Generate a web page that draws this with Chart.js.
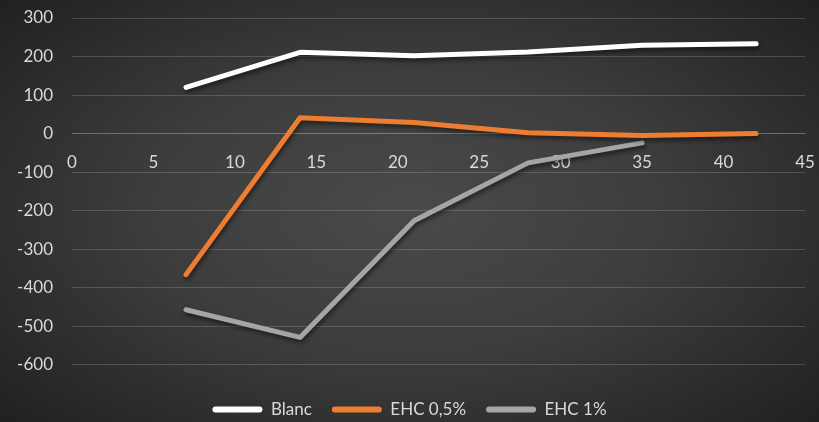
<!DOCTYPE html>
<html>
<head>
<meta charset="utf-8">
<script src="https://cdn.jsdelivr.net/npm/chart.js@4/dist/chart.umd.min.js"></script>
<style>
  html, body { margin: 0; padding: 0; }
  body {
    width: 819px; height: 422px; overflow: hidden;
    background: radial-gradient(ellipse 70% 75% at 50% 50%, #4a4a4a 0%, #3d3d3d 45%, #1f1f1f 100%);
  }
  #wrap { position: relative; width: 819px; height: 422px; }
</style>
</head>
<body>
<div id="wrap"><canvas id="chart"></canvas></div>
<script>
// Days of measurement and the three series
const days = [7, 14, 21, 28, 35, 42];
const blanc = [120, 211, 202, 212, 229, 233];
const ehc05 = [-366, 41, 29, 2, -5, 0];
const ehc1 = [-457, -529, -226, -76, -24, null];

const seriesNames = ['Blanc', 'EHC 0,5%', 'EHC 1%'];
const seriesColors = ['#ffffff', '#ed7d31', '#a5a5a5'];

const tickColor = '#d9d9d9';
const font = { family: 'Lato, "Open Sans", sans-serif', size: 17 };

const toPoints = vals => days.map((d, i) => ({ x: d, y: vals[i] })).filter(p => p.y != null);

// soft drop shadow under each line
const lineShadow = {
  id: 'line-shadow',
  beforeDatasetDraw(chart) {
    const ctx = chart.ctx;
    ctx.save();
    ctx.shadowColor = 'rgba(0,0,0,0.5)';
    ctx.shadowBlur = 4;
    ctx.shadowOffsetX = 1;
    ctx.shadowOffsetY = 3;
  },
  afterDatasetDraw(chart) {
    chart.ctx.restore();
  },
};

const datasets = [blanc, ehc05, ehc1].map((vals, i) => ({
  label: seriesNames[i],
  data: toPoints(vals),
  borderColor: seriesColors[i],
  backgroundColor: seriesColors[i],
  borderWidth: 5,
  borderCapStyle: 'round',
  borderJoinStyle: 'round',
  pointRadius: 0,
  tension: 0,
}));

new Chart(document.getElementById('chart'), {
  type: 'line',
  data: { datasets },
  options: {
    responsive: true,
    maintainAspectRatio: false,
    animation: false,
    layout: { padding: { top: 18, bottom: -6, left: 0, right: 0 } },
    scales: {
      x: {
        type: 'linear',
        position: { y: 0 },
        min: 0, max: 45,
        ticks: { stepSize: 5, color: tickColor, font, padding: 19 },
        grid: { display: false, drawTicks: false },
        border: { display: true, color: 'rgba(255,255,255,0.16)', width: 1 },
        // axis sits across the plot at y = 0, so it takes no layout room
        afterFit: s => {
          s.height = 0;
          s.paddingLeft = 10;
          s.paddingRight = 14;
        },
      },
      y: {
        min: -600, max: 300,
        ticks: { stepSize: 100, color: tickColor, font, padding: 19 },
        grid: { color: 'rgba(255,255,255,0.16)', drawTicks: false },
        border: { display: false },
        afterFit: s => {
          s.width = 72;
          // tick padding is horizontal here, keep it out of the top/bottom overhang
          s.paddingTop = 10;
          s.paddingBottom = 10;
        },
      },
    },
    plugins: {
      legend: {
        position: 'bottom',
        // blank title only adds room between the plot and the legend row
        title: { display: true, text: ' ', font: { size: 1 }, padding: { top: 15, bottom: 0 } },
        labels: {
          color: tickColor,
          font,
          boxWidth: 50,
          boxHeight: 6,
          useBorderRadius: true,
          borderRadius: 3,
          padding: 20,
          generateLabels: chart => chart.data.datasets.map((ds, i) => ({
            text: ds.label,
            fillStyle: ds.borderColor,
            strokeStyle: ds.borderColor,
            lineWidth: 0,
            fontColor: tickColor,
            borderRadius: 3,
            datasetIndex: i,
            hidden: false,
          })),
        },
      },
      tooltip: { enabled: false },
    },
  },
  plugins: [lineShadow],
});
</script>
</body>
</html>
